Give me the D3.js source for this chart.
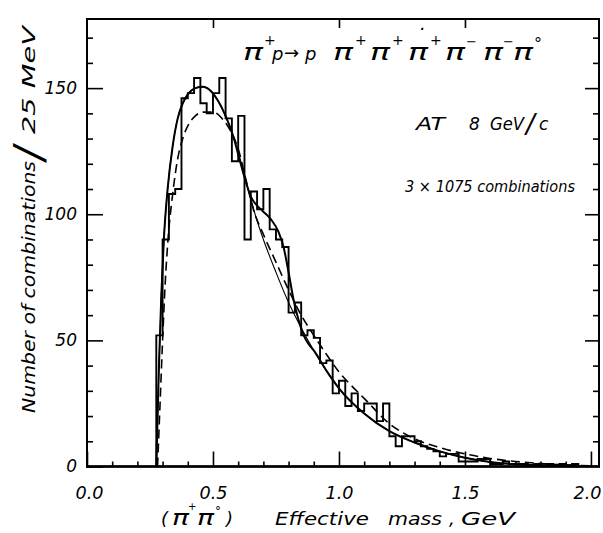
<!DOCTYPE html>
<html>
<head>
<meta charset="utf-8">
<script src="https://cdn.jsdelivr.net/npm/d3@7"></script>
<style>
  html, body { margin: 0; padding: 0; background: #fff; }
  svg { display: block; }
  text { font-family: "DejaVu Sans", "Liberation Sans", sans-serif; font-style: italic; fill: #000; }
</style>
</head>
<body>
<svg id="chart" width="603" height="533"></svg>
<script>
// ---- Histogram: (pi+ pi0) effective mass, 25 MeV bins (lower bin edges, GeV) ----
const binLow = [
  0.275, 0.300, 0.325, 0.350, 0.375, 0.400, 0.425, 0.450, 0.475, 0.500,
  0.525, 0.550, 0.575, 0.600, 0.625, 0.650, 0.675, 0.700, 0.725, 0.750,
  0.775, 0.800, 0.825, 0.850, 0.875, 0.900, 0.925, 0.950, 0.975, 1.000,
  1.025, 1.050, 1.075, 1.100, 1.125, 1.150, 1.175, 1.200, 1.225, 1.250,
  1.275, 1.300, 1.325, 1.350, 1.375, 1.400, 1.425, 1.450, 1.475, 1.500,
  1.525, 1.550, 1.575, 1.600, 1.625, 1.650, 1.675, 1.700, 1.725, 1.750,
  1.775, 1.800, 1.825, 1.850, 1.875, 1.900, 1.925
];
const binWidth = 0.025;
const counts = [
  52, 90, 108, 110, 146, 148, 154, 144, 140, 148,
  154, 138, 121, 139, 90, 109, 102, 110, 94, 90,
  87, 61, 65, 52, 54, 51, 41, 42, 29, 34,
  24, 29, 22, 25, 25, 18, 25, 12, 8, 12,
  12, 10, 8, 7, 6, 4, 5, 5, 2, 2,
  2, 3, 3, 1, 1, 2, 1, 1, 1, 0.5,
  1, 0.5, 1, 0.5, 1, 0.5, 1
];

// ---- Fit with rho contribution (heavy solid curve) ----
const rhoFitMass = [
  0.275, 0.285, 0.295, 0.305, 0.32, 0.34, 0.36, 0.38, 0.40, 0.43,
  0.46, 0.49, 0.52, 0.55, 0.58, 0.61, 0.63, 0.65, 0.67, 0.70,
  0.73, 0.76, 0.78, 0.80, 0.82, 0.84, 0.86, 0.88, 0.90, 0.95,
  1.00, 1.10, 1.20, 1.30, 1.40, 1.50, 1.60, 1.70, 1.80, 1.90, 1.95
];
const rhoFitValue = [
  0, 38, 68, 90, 110, 127, 138, 144, 147.5, 150,
  150.5, 149, 145, 139, 131, 120, 113, 107, 104, 101,
  98, 93, 87, 77, 66, 58, 52, 48.5, 46, 38,
  31, 21, 14, 9.5, 6, 3.5, 1.8, 0.9, 0.4, 0.15, 0
];

// ---- Phase-space fit (thin solid curve) ----
const psFitMass = [
  0.275, 0.285, 0.295, 0.305, 0.32, 0.34, 0.36, 0.38, 0.40, 0.43,
  0.46, 0.49, 0.52, 0.55, 0.58, 0.61, 0.64, 0.67, 0.70, 0.75,
  0.80, 0.85, 0.90, 0.95, 1.00, 1.10, 1.20, 1.30, 1.40, 1.50,
  1.60, 1.70, 1.80, 1.90, 1.95
];
const psFitValue = [
  0, 38, 68, 90, 110, 127, 138, 144, 147.5, 150,
  150.5, 149, 145, 139, 131, 121, 110, 99, 90, 77,
  65, 55, 46, 38, 31, 21, 14, 9.5, 6, 3.5,
  1.8, 0.9, 0.4, 0.15, 0
];

// ---- Alternative fit (dashed curve) ----
const altFitMass = [
  0.28, 0.29, 0.30, 0.31, 0.32, 0.34, 0.36, 0.38, 0.40, 0.43,
  0.46, 0.50, 0.54, 0.57, 0.60, 0.63, 0.66, 0.70, 0.75, 0.80,
  0.85, 0.90, 0.95, 1.00, 1.05, 1.10, 1.20, 1.30, 1.40, 1.50,
  1.60, 1.70, 1.80, 1.90, 2.00
];
const altFitValue = [
  0, 25, 50, 72, 88, 108, 122, 130, 135, 139,
  140.5, 140.5, 137.5, 133, 126, 114, 102, 92, 81, 70,
  60, 52, 44.5, 37.5, 32, 27, 17, 11, 7.5, 5,
  3.2, 2, 1.2, 0.6, 0.3
];

// ---- Axis ticks ----
const xTickValues = [0, 0.5, 1.0, 1.5, 2.0];
const xTickLabels = ["0.0", "0.5", "1.0", "1.5", "2.0"];
const yTickValues = [0, 50, 100, 150];
const yTickLabels = ["0", "50", "100", "150"];

// ---- Layout ----
const svg = d3.select("#chart");
const L = 87, R = 599, T = 19, B = 466.5;
const x = d3.scaleLinear().domain([0, 2.032]).range([L, R]);
const y = d3.scaleLinear().domain([0, 177.4]).range([B, T]);

const xMinor = d3.range(1, 20).map(i => i / 10).filter(v => Math.abs(v * 2 - Math.round(v * 2)) > 1e-6);
const yMinor = d3.range(10, 180, 10).filter(v => v % 50 !== 0);

function styleAxis(g) {
  g.select(".domain").remove();
  g.attr("font-family", null).attr("font-size", null);
  g.selectAll(".tick line").attr("stroke", "#000").attr("stroke-width", 1.6);
}

// bottom axis: minor + major ticks pointing inward, labels below
svg.append("g").attr("transform", `translate(0,${B})`)
  .call(d3.axisBottom(x).tickValues(xMinor).tickSizeInner(-5).tickSizeOuter(0).tickFormat(""))
  .call(styleAxis);
const gxMaj = svg.append("g").attr("transform", `translate(0,${B})`)
  .call(d3.axisBottom(x).tickValues(xTickValues).tickSizeInner(-15).tickSizeOuter(0)
    .tickPadding(20).tickFormat((d, i) => xTickLabels[i]))
  .call(styleAxis);
gxMaj.selectAll("text").attr("font-size", 17).attr("fill", "#000")
  .attr("textLength", 28).attr("lengthAdjust", "spacingAndGlyphs")
  .attr("dx", d => (d === 2.0 ? -4 : d === 0 ? 2 : 0));

// top axis: major ticks only
svg.append("g").attr("transform", `translate(0,${T})`)
  .call(d3.axisTop(x).tickValues([0.5, 1.0, 1.5]).tickSizeInner(-9).tickSizeOuter(0).tickFormat(""))
  .call(styleAxis);

// left axis
svg.append("g").attr("transform", `translate(${L},0)`)
  .call(d3.axisLeft(y).tickValues(yMinor).tickSizeInner(-6).tickSizeOuter(0).tickFormat(""))
  .call(styleAxis);
const gyMaj = svg.append("g").attr("transform", `translate(${L},0)`)
  .call(d3.axisLeft(y).tickValues(yTickValues).tickSizeInner(-16).tickSizeOuter(0)
    .tickPadding(10).tickFormat((d, i) => yTickLabels[i]))
  .call(styleAxis);
gyMaj.selectAll("text").attr("font-size", 17).attr("fill", "#000");

// right axis
svg.append("g").attr("transform", `translate(${R},0)`)
  .call(d3.axisRight(y).tickValues(yMinor).tickSizeInner(-6).tickSizeOuter(0).tickFormat(""))
  .call(styleAxis);
svg.append("g").attr("transform", `translate(${R},0)`)
  .call(d3.axisRight(y).tickValues(yTickValues.slice(1)).tickSizeInner(-14).tickSizeOuter(0).tickFormat(""))
  .call(styleAxis);

// frame
svg.append("rect")
  .attr("x", L).attr("y", T).attr("width", R - L).attr("height", B - T)
  .attr("fill", "none").attr("stroke", "#000").attr("stroke-width", 2);
svg.append("line").attr("x1", L - 1).attr("x2", R + 1).attr("y1", B).attr("y2", B)
  .attr("stroke", "#000").attr("stroke-width", 2.6);

// histogram outline
const histPts = [[binLow[0], 0]];
binLow.forEach((lo, i) => {
  histPts.push([lo, counts[i]]);
  histPts.push([lo + binWidth, counts[i]]);
});
histPts.push([binLow[binLow.length - 1] + binWidth, 0]);
const stepLine = d3.line().x(d => x(d[0])).y(d => y(d[1]));
svg.append("path").attr("d", stepLine(histPts))
  .attr("fill", "none").attr("stroke", "#000").attr("stroke-width", 1.9)
  .attr("stroke-linejoin", "miter");

// fitted curves
const curve = d3.line().x(d => x(d[0])).y(d => y(d[1])).curve(d3.curveMonotoneX);
const zip = (a, b) => a.map((v, i) => [v, b[i]]);
svg.append("path").attr("d", curve(zip(psFitMass, psFitValue)))
  .attr("fill", "none").attr("stroke", "#000").attr("stroke-width", 1.1);
svg.append("path").attr("d", curve(zip(altFitMass, altFitValue)))
  .attr("fill", "none").attr("stroke", "#000").attr("stroke-width", 1.6)
  .attr("stroke-dasharray", "9,5");
svg.append("path").attr("d", curve(zip(rhoFitMass, rhoFitValue)))
  .attr("fill", "none").attr("stroke", "#000").attr("stroke-width", 2);

// reaction: pi+ p -> p pi+ pi+ pi+ pi- pi- pi0
const pis = [243, 333, 370, 408, 445, 483, 513];
svg.append("g").selectAll("text").data(pis).join("text")
  .attr("x", d => d).attr("y", 60).attr("font-size", 23)
  .attr("textLength", 20).attr("lengthAdjust", "spacingAndGlyphs")
  .text("\u03C0");
const marks = [
  { t: "+", x: 264, y: 45, s: 14 }, { t: "+", x: 355, y: 45, s: 14 },
  { t: "+", x: 392, y: 45, s: 14 }, { t: "+", x: 430, y: 45, s: 14 },
  { t: "\u2212", x: 466, y: 46, s: 13 }, { t: "\u2212", x: 503, y: 46, s: 13 },
  { t: "\u00B0", x: 534, y: 49, s: 16 }, { t: "\u00B7", x: 419, y: 35, s: 18 },
  { t: "p", x: 272, y: 60, s: 18 }, { t: "\u2192", x: 284, y: 59, s: 18 },
  { t: "p", x: 305, y: 60, s: 18 }
];
svg.append("g").selectAll("text").data(marks).join("text")
  .attr("x", d => d.x).attr("y", d => d.y).attr("font-size", d => d.s).text(d => d.t);

// beam momentum
const beam = svg.append("g").attr("font-size", 17);
beam.append("text").attr("x", 416).attr("y", 130).attr("textLength", 29)
  .attr("lengthAdjust", "spacingAndGlyphs").text("AT");
beam.append("text").attr("x", 469).attr("y", 130).text("8");
beam.append("text").attr("x", 490).attr("y", 130).attr("textLength", 34)
  .attr("lengthAdjust", "spacingAndGlyphs").text("GeV");
beam.append("text").attr("x", 526).attr("y", 133).attr("font-size", 26).text("/");
beam.append("text").attr("x", 539).attr("y", 130).text("c");

// statistics
svg.append("text").attr("x", 405).attr("y", 192).attr("font-size", 16)
  .attr("textLength", 170).attr("lengthAdjust", "spacingAndGlyphs")
  .text("3 \u00D7 1075 combinations");

// y axis title
const yt = svg.append("g").attr("transform", "translate(35,0) rotate(-90)");
yt.append("text").attr("x", -413).attr("y", 0).attr("font-size", 18)
  .attr("textLength", 252).attr("lengthAdjust", "spacingAndGlyphs")
  .text("Number  of  combinations");
yt.append("text").attr("x", -160).attr("y", 8).attr("font-size", 40).text("/");
yt.append("text").attr("x", -134).attr("y", 0).attr("font-size", 18)
  .attr("textLength", 108).attr("lengthAdjust", "spacingAndGlyphs")
  .text("25  MeV");

// x axis title
const xt = svg.append("g").attr("font-size", 18);
xt.append("text").attr("x", 161).attr("y", 525).text("(");
xt.append("text").attr("x", 172).attr("y", 525).attr("font-size", 21)
  .attr("textLength", 17).attr("lengthAdjust", "spacingAndGlyphs").text("\u03C0");
xt.append("text").attr("x", 188).attr("y", 510).attr("font-size", 10).text("+");
xt.append("text").attr("x", 197).attr("y", 525).attr("font-size", 21)
  .attr("textLength", 17).attr("lengthAdjust", "spacingAndGlyphs").text("\u03C0");
xt.append("text").attr("x", 215).attr("y", 515).attr("font-size", 12).text("\u00B0");
xt.append("text").attr("x", 226).attr("y", 525).text(")");
xt.append("text").attr("x", 275).attr("y", 525).attr("textLength", 94)
  .attr("lengthAdjust", "spacingAndGlyphs").text("Effective");
xt.append("text").attr("x", 388).attr("y", 525).attr("textLength", 54)
  .attr("lengthAdjust", "spacingAndGlyphs").text("mass");
xt.append("text").attr("x", 449).attr("y", 525).text(",");
xt.append("text").attr("x", 461).attr("y", 525).attr("textLength", 54)
  .attr("lengthAdjust", "spacingAndGlyphs").text("GeV");
</script>
</body>
</html>
